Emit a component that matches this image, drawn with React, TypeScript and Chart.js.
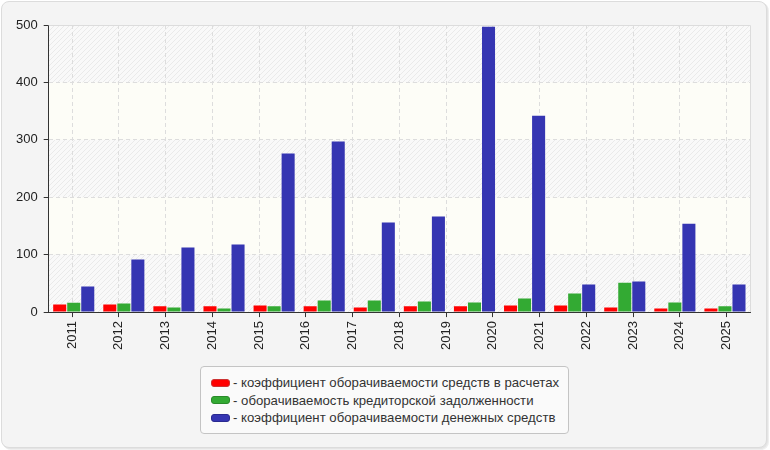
import { useEffect, useRef } from 'react';
import { Chart, registerables } from 'chart.js';

Chart.register(...registerables);

// подписи оси X (15 лет) и периоды столбцов (14 групп)
const years = ['2011', '2012', '2013', '2014', '2015', '2016', '2017', '2018', '2019', '2020', '2021', '2022', '2023', '2024', '2025'];
const barPeriods = ['2012', '2013', '2014', '2015', '2016', '2017', '2018', '2019', '2020', '2021', '2022', '2023', '2024', '2025'];

const seriesNames = [
  'коэффициент оборачиваемости средств в расчетах',
  'оборачиваемость кредиторской задолженности',
  'коэффициент оборачиваемости денежных средств',
];

const receivablesTurnover = [13.3, 13, 10, 10, 11.6, 10, 8, 10, 10, 11.6, 11.6, 8, 6.4, 6.4];
const payablesTurnover = [16.2, 15, 8, 6.4, 10, 20.3, 20.3, 18.6, 16.8, 23.8, 32.5, 51, 16.8, 10];
const cashTurnover = [44.7, 91.6, 112.5, 117.7, 276, 297, 156, 166.5, 497, 342, 48, 53.4, 154, 48];

const colors = ['#ff0000', '#33aa33', '#3535b2'];
const swatchBorders = ['#cc3333', '#2a8a2a', '#2a2a90'];

const yTicks = [0, 100, 200, 300, 400, 500];

const FONT = '"Liberation Sans", Arial, sans-serif';

// фон области построения: штриховка и светлые полосы
const plotBackground = {
  id: 'plotBackground',
  beforeDraw(chart: any) {
    const { ctx, chartArea, scales } = chart;
    const { left, top, right, bottom } = chartArea;
    const pc = document.createElement('canvas');
    pc.width = 5;
    pc.height = 5;
    const p = pc.getContext('2d')!;
    p.fillStyle = '#f9f9f9';
    p.fillRect(0, 0, 5, 5);
    p.strokeStyle = '#eaeaea';
    p.lineWidth = 1;
    p.beginPath();
    p.moveTo(-1, 6); p.lineTo(6, -1);
    p.moveTo(-1, 1); p.lineTo(1, -1);
    p.moveTo(4, 6); p.lineTo(6, 4);
    p.stroke();
    const pattern = ctx.createPattern(pc, 'repeat');

    ctx.save();
    ctx.fillStyle = pattern;
    ctx.fillRect(left, top, right - left, bottom - top);
    const y = scales.y;
    for (let i = 0; i < yTicks.length - 1; i++) {
      if (i % 2 === 1) {
        const y1 = y.getPixelForValue(yTicks[i + 1]);
        const y2 = y.getPixelForValue(yTicks[i]);
        ctx.fillStyle = '#fdfdf7';
        ctx.fillRect(left, y1, right - left, y2 - y1);
      }
    }
    ctx.restore();
  },
  beforeDatasetsDraw(chart: any) {
    const { ctx, chartArea } = chart;
    const { left, top, right, bottom } = chartArea;
    ctx.save();
    ctx.strokeStyle = '#dcdcdc';
    ctx.lineWidth = 1;
    ctx.beginPath();
    ctx.moveTo(left, Math.round(top) + 0.5);
    ctx.lineTo(Math.round(right) + 0.5, Math.round(top) + 0.5);
    ctx.lineTo(Math.round(right) + 0.5, bottom);
    ctx.stroke();
    ctx.restore();
  },
};

export default function App() {
  const canvasRef = useRef<HTMLCanvasElement>(null);

  useEffect(() => {
    document.body.style.margin = '0';
    if (!canvasRef.current) return;

    const values = [receivablesTurnover, payablesTurnover, cashTurnover];

    const chart = new Chart(canvasRef.current, {
      type: 'bar',
      data: {
        labels: barPeriods,
        datasets: seriesNames.map((name, i) => ({
          label: name,
          data: values[i],
          backgroundColor: colors[i],
          borderWidth: 0,
          xAxisID: 'xb',
          categoryPercentage: 0.84,
          barPercentage: 0.93,
        })),
      },
      options: {
        animation: false,
        responsive: true,
        maintainAspectRatio: false,
        layout: { padding: { left: 10, top: 25, right: 20, bottom: 96 } },
        plugins: { legend: { display: false }, tooltip: { enabled: false } },
        scales: {
          x: {
            type: 'category',
            labels: years,
            offset: true,
            position: 'bottom',
            grid: {
              offset: false,
              color: '#dddddd',
              tickLength: 5,
              tickColor: '#333333',
              tickWidth: 1,
            },
            border: { color: '#333333', width: 1, dash: [4, 3] },
            ticks: {
              color: '#222222',
              font: { family: FONT, size: 13 },
              minRotation: 90,
              maxRotation: 90,
              autoSkip: false,
              padding: 4,
            },
          },
          xb: {
            type: 'category',
            labels: barPeriods,
            offset: true,
            display: false,
            grid: { offset: true },
          },
          y: {
            min: 0,
            max: 500,
            grid: {
              color: '#dddddd',
              tickLength: 5,
              tickColor: '#333333',
              tickWidth: 1,
            },
            border: { color: '#333333', width: 1, dash: [4, 3] },
            ticks: {
              stepSize: 100,
              color: '#222222',
              font: { family: FONT, size: 13 },
              padding: 6,
            },
          },
        },
      } as any,
      plugins: [plotBackground],
    });

    return () => chart.destroy();
  }, []);

  return (
    <div style={{ position: 'relative', width: 770, height: 450, fontFamily: FONT }}>
      <div
        style={{
          position: 'absolute',
          left: 1,
          top: 1,
          width: 766,
          height: 447,
          boxSizing: 'border-box',
          border: '1px solid #dcdcdc',
          borderRadius: 8,
          background: '#f4f4f4',
          boxShadow: '1px 1px 0 #e4e4e4, 2px 2px 0 #efefef',
        }}
      />
      <div style={{ position: 'absolute', left: 0, top: 0, width: 770, height: 450 }}>
        <canvas ref={canvasRef}></canvas>
      </div>
      <div
        style={{
          position: 'absolute',
          left: 200,
          top: 366,
          width: 369,
          height: 68,
          boxSizing: 'border-box',
          border: '1px solid #c4c4c4',
          borderRadius: 4,
          background: '#fafafa',
          padding: '7px 0 0 10px',
        }}
      >
        {seriesNames.map((name, i) => (
          <div key={i} style={{ display: 'flex', alignItems: 'center', height: 17.5, fontSize: 13.2, color: '#333333', whiteSpace: 'nowrap' }}>
            <span
              style={{
                display: 'inline-block',
                flex: 'none',
                width: 19,
                height: 8,
                boxSizing: 'border-box',
                background: colors[i],
                border: `1px solid ${swatchBorders[i]}`,
                borderRadius: 3,
                marginRight: 3,
              }}
            />
            <span>- {name}</span>
          </div>
        ))}
      </div>
    </div>
  );
}
